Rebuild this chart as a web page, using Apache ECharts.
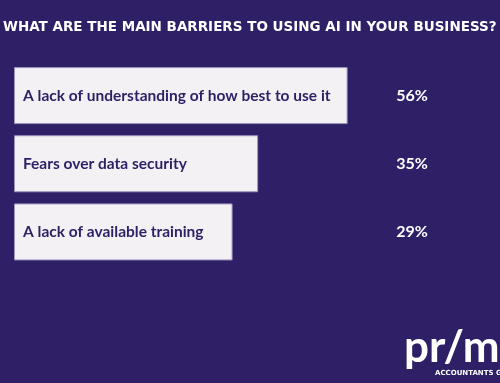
<!DOCTYPE html>
<html><head><meta charset="utf-8">
<script src="https://cdn.jsdelivr.net/npm/echarts@6/dist/echarts.min.js"></script>
<style>html,body{margin:0;padding:0;background:#2e1f66}#c{width:500px;height:383px}</style>
</head><body><div id="c"></div>
<script>
const titleText = 'WHAT ARE THE MAIN BARRIERS TO USING AI IN YOUR BUSINESS?';
const categories = ['A lack of understanding of how best to use it', 'Fears over data security', 'A lack of available training'];
const values = [56, 35, 29];
const valueLabels = values.map(v => v + '%');

const BG = '#2e1f66';
const chart = echarts.init(document.getElementById('c'), null, {renderer: 'canvas'});
chart.setOption({
  backgroundColor: BG,
  animation: false,
  title: {
    text: titleText, left: 3, top: 20, padding: 0,
    textStyle: {color: '#ffffff', fontSize: 13.5, fontWeight: 'bold', fontFamily: 'DejaVu Sans'}
  },
  grid: {left: 14, top: 61.5, width: 366, height: 204.5, containLabel: false},
  xAxis: {type: 'value', min: -22.3, max: 63.6, startValue: -22.3, show: false},
  yAxis: [
    {type: 'category', data: categories, inverse: true, show: false},
    {type: 'category', data: valueLabels, inverse: true, position: 'right',
     axisLine: {show: false}, axisTick: {show: false}, splitLine: {show: false},
     axisLabel: {color: '#ffffff', fontSize: 16, fontWeight: 'bold', fontFamily: 'Lato', margin: 32, align: 'center'}}
  ],
  series: [{
    type: 'bar', yAxisIndex: 0, data: values, barWidth: 57,
    itemStyle: {color: '#f3f1f3', borderColor: '#9d94bd', borderWidth: 1},
    label: {
      show: true, position: 'insideLeft', distance: 9,
      formatter: p => categories[p.dataIndex],
      color: BG, fontSize: 15.5, fontWeight: 'bold', fontFamily: 'Lato'
    }
  }],
  graphic: [
    {type: 'text', left: 404, top: 326, style: {text: 'pr/m', fill: '#ffffff', font: 'bold 44px Lato'}},
    {type: 'text', left: 435, top: 370, style: {text: 'ACCOUNTANTS G', fill: '#ffffff', font: 'bold 7px "DejaVu Sans"'}}
  ]
});
</script></body></html>
